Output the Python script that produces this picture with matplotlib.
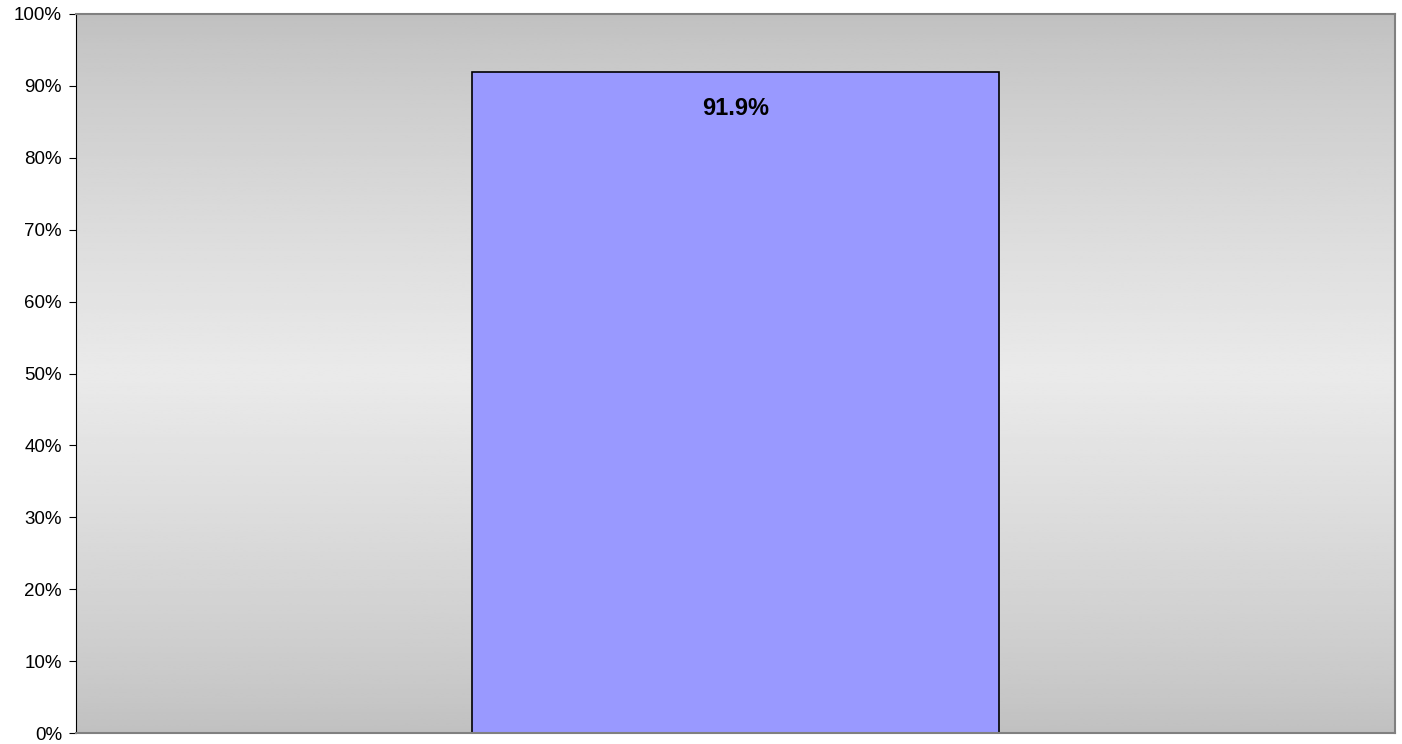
import numpy as np
import matplotlib
matplotlib.use('Agg')
import matplotlib.pyplot as plt
from matplotlib.ticker import PercentFormatter

plt.rcParams['font.family'] = ['Liberation Sans', 'DejaVu Sans']

# data
categories = ['']
values = [91.9]
bar_labels = ['91.9%']

fig = plt.figure(figsize=(14.02, 7.44), dpi=100)
ax = fig.add_axes([76/1402, 11/744, (1395-76)/1402, (733-14)/744])

# background gradient: grey at top/bottom, light in the middle
t = np.linspace(0, 1, 256)
shade = 0.753 + (0.918 - 0.753) * (1 - np.abs(2*t - 1)) ** 0.8
grad = np.repeat(shade[:, None], 2, axis=1)
ax.imshow(grad, cmap='gray', vmin=0, vmax=1, aspect='auto',
          extent=(-1, 1, 0, 100), origin='lower', zorder=0)

x = np.arange(len(categories))
bars = ax.bar(x, values, width=0.8, color='#9999ff', edgecolor='black',
              linewidth=1.2, zorder=2)
for b, lab in zip(bars, bar_labels):
    ax.annotate(lab, (b.get_x() + b.get_width()/2, b.get_height()),
                xytext=(0, -26), textcoords='offset points', ha='center',
                va='center', fontsize=17, fontweight='bold', zorder=3)

ax.set_xlim(-1, 1)
ax.set_ylim(0, 100)
ax.set_yticks(np.arange(0, 101, 10))
ax.yaxis.set_major_formatter(PercentFormatter(decimals=0))
ax.set_xticks([])
ax.tick_params(axis='y', direction='out', length=5, labelsize=13.5, pad=5)
ax.spines['left'].set_color('black')
for s in ['top', 'right', 'bottom']:
    ax.spines[s].set_color('#808080')
    ax.spines[s].set_linewidth(1.5)

fig.savefig('out.png', dpi=100)
